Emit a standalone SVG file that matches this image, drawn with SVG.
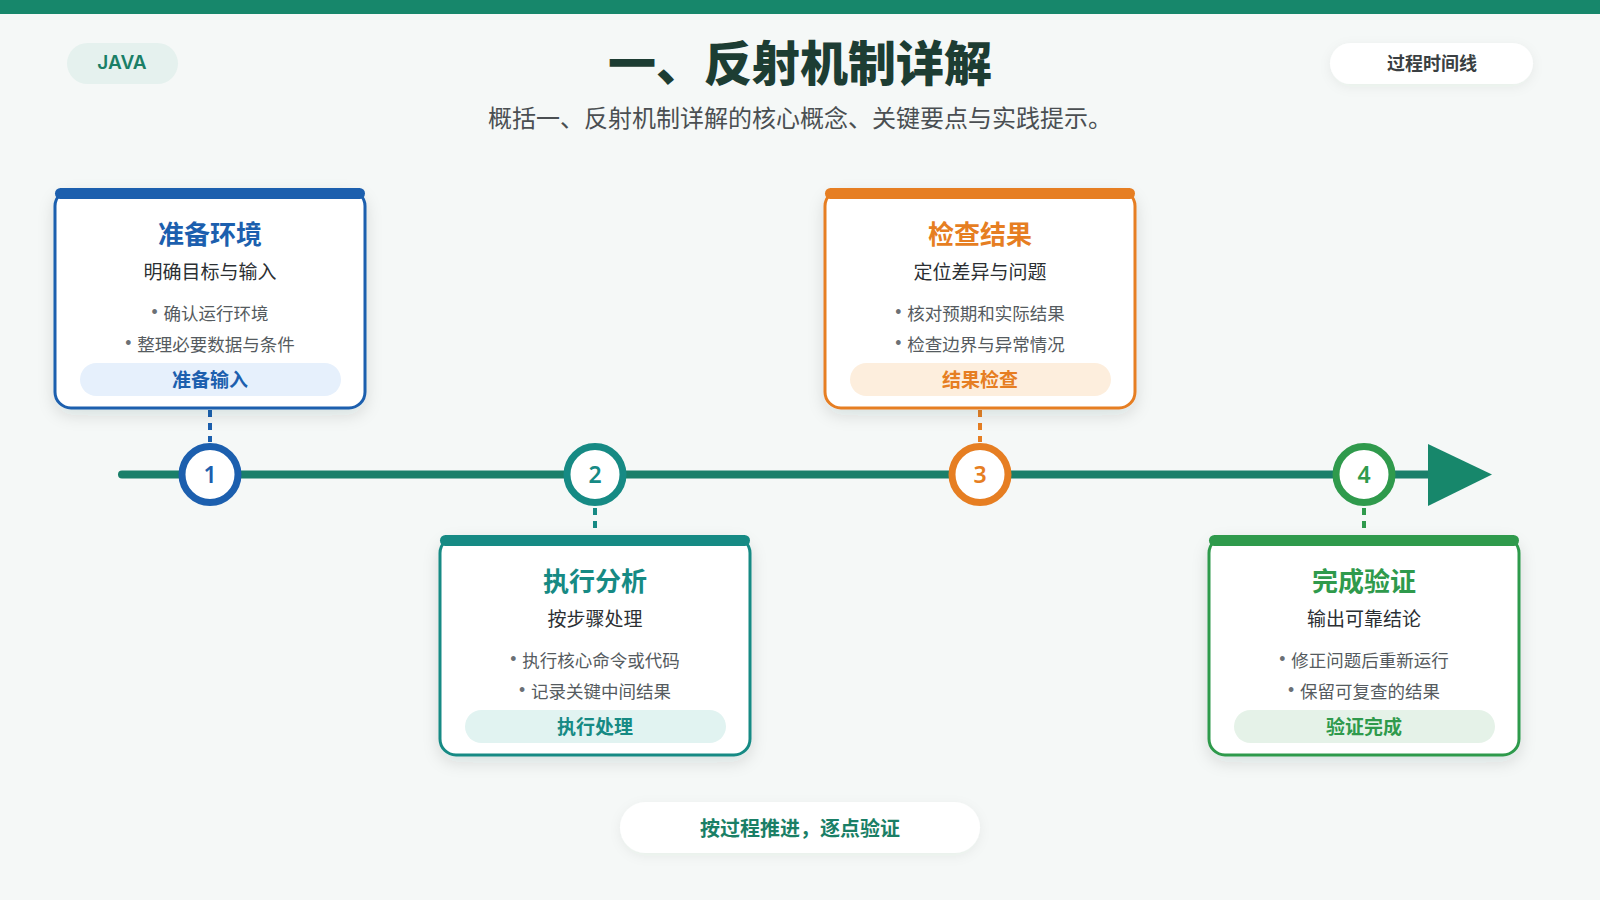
<svg xmlns="http://www.w3.org/2000/svg" width="1600" height="900" viewBox="0 0 1600 900">
<defs>
<filter id="sh" x="-20%" y="-20%" width="140%" height="150%">
<feDropShadow dx="0" dy="6" stdDeviation="8" flood-color="#1d3d33" flood-opacity="0.12"/>
</filter>
<filter id="sh2" x="-20%" y="-40%" width="140%" height="180%">
<feDropShadow dx="0" dy="3" stdDeviation="6" flood-color="#1d3d33" flood-opacity="0.06"/>
</filter>
<style>
text{font-family:"Noto Sans CJK SC","Noto Sans",sans-serif;text-anchor:middle;dominant-baseline:central}
.t{font-size:26px;font-weight:700}
.s{font-size:19px;fill:#2b2f33}
.b{font-size:17.5px;fill:#555b60}
.dot{fill:#6b7075;font-family:"Liberation Sans",sans-serif}
.bd{font-size:19px;font-weight:700}
.card{fill:#ffffff;stroke-width:3}
.num{font-family:"Noto Sans","Inter",sans-serif;font-size:23px;font-weight:600}
.dash{stroke-width:4;stroke-dasharray:7 6;fill:none}
</style>
</defs>
<rect width="1600" height="900" fill="#f5f8f7"/>
<rect width="1600" height="14" fill="#17876b"/>

<g id="header">
<rect x="67" y="43" width="111" height="41" rx="20.5" fill="#e5f1ee"/>
<text x="122" y="62.5" style="font-family:Inter,'Noto Sans',sans-serif;font-size:19px;font-weight:600;fill:#1a7f66">JAVA</text>
<text x="800" y="60" style="font-size:48px;font-weight:800;fill:#1d3d33">一、反射机制详解</text>
<text x="800" y="116" style="font-size:24px;fill:#4a4f52">概括一、反射机制详解的核心概念、关键要点与实践提示。</text>
<rect x="1330" y="43" width="203" height="41" rx="20.5" fill="#ffffff" filter="url(#sh2)"/>
<text x="1432" y="62" style="font-size:18px;font-weight:700;fill:#3a3f42">过程时间线</text>
</g>

<g id="connectors">
<line x1="122" y1="474.5" x2="1432" y2="474.5" stroke="#1a7f6a" stroke-width="8" stroke-linecap="round"/>
<polygon points="1428,444 1492,474.5 1428,506" fill="#17876b"/>
<line class="dash" x1="210" y1="410" x2="210" y2="442" stroke="#1c5fae"/>
<line class="dash" x1="595" y1="508" x2="595" y2="533" stroke="#168a84"/>
<line class="dash" x1="980" y1="410" x2="980" y2="442" stroke="#e67e22"/>
<line class="dash" x1="1364" y1="508" x2="1364" y2="533" stroke="#2f9a4c"/>
</g>

<g id="m1"><circle cx="210" cy="474.5" r="28" fill="#fff" stroke="#1c5fae" stroke-width="7"/><text class="num" x="210" y="474" fill="#1c5fae">1</text></g>
<g id="m2"><circle cx="595" cy="474.5" r="28" fill="#fff" stroke="#168a84" stroke-width="7"/><text class="num" x="595" y="474" fill="#168a84">2</text></g>
<g id="m3"><circle cx="980" cy="474.5" r="28" fill="#fff" stroke="#e67e22" stroke-width="7"/><text class="num" x="980" y="474" fill="#e67e22">3</text></g>
<g id="m4"><circle cx="1364" cy="474.5" r="28" fill="#fff" stroke="#2f9a4c" stroke-width="7"/><text class="num" x="1364" y="474" fill="#2f9a4c">4</text></g>

<g id="card1">
<rect class="card" x="55" y="190" width="310" height="218" rx="16" stroke="#1c5fae" filter="url(#sh)"/>
<rect x="55" y="188" width="310" height="11" rx="5.5" fill="#1c5fae"/>
<text class="t" x="210" y="232" fill="#1c5fae">准备环境</text>
<text class="s" x="210" y="270">明确目标与输入</text>
<text class="b" x="210" y="312"><tspan class="dot">•</tspan><tspan dx="6">确认运行环境</tspan></text>
<text class="b" x="210" y="343"><tspan class="dot">•</tspan><tspan dx="6">整理必要数据与条件</tspan></text>
<rect x="80" y="363" width="261" height="33" rx="16.5" fill="#e6f0fc"/>
<text class="bd" x="210" y="378" fill="#1c5fae">准备输入</text>
</g>

<g id="card2">
<rect class="card" x="440" y="537" width="310" height="218" rx="16" stroke="#168a84" filter="url(#sh)"/>
<rect x="440" y="535" width="310" height="11" rx="5.5" fill="#168a84"/>
<text class="t" x="595" y="579" fill="#168a84">执行分析</text>
<text class="s" x="595" y="617">按步骤处理</text>
<text class="b" x="595" y="659"><tspan class="dot">•</tspan><tspan dx="6">执行核心命令或代码</tspan></text>
<text class="b" x="595" y="690"><tspan class="dot">•</tspan><tspan dx="6">记录关键中间结果</tspan></text>
<rect x="465" y="710" width="261" height="33" rx="16.5" fill="#e1f3f1"/>
<text class="bd" x="595" y="725" fill="#168a84">执行处理</text>
</g>

<g id="card3">
<rect class="card" x="825" y="190" width="310" height="218" rx="16" stroke="#e67e22" filter="url(#sh)"/>
<rect x="825" y="188" width="310" height="11" rx="5.5" fill="#e67e22"/>
<text class="t" x="980" y="232" fill="#e67e22">检查结果</text>
<text class="s" x="980" y="270">定位差异与问题</text>
<text class="b" x="980" y="312"><tspan class="dot">•</tspan><tspan dx="6">核对预期和实际结果</tspan></text>
<text class="b" x="980" y="343"><tspan class="dot">•</tspan><tspan dx="6">检查边界与异常情况</tspan></text>
<rect x="850" y="363" width="261" height="33" rx="16.5" fill="#fdeedd"/>
<text class="bd" x="980" y="378" fill="#e67e22">结果检查</text>
</g>

<g id="card4">
<rect class="card" x="1209" y="537" width="310" height="218" rx="16" stroke="#2f9a4c" filter="url(#sh)"/>
<rect x="1209" y="535" width="310" height="11" rx="5.5" fill="#2f9a4c"/>
<text class="t" x="1364" y="579" fill="#2f9a4c">完成验证</text>
<text class="s" x="1364" y="617">输出可靠结论</text>
<text class="b" x="1364" y="659"><tspan class="dot">•</tspan><tspan dx="6">修正问题后重新运行</tspan></text>
<text class="b" x="1364" y="690"><tspan class="dot">•</tspan><tspan dx="6">保留可复查的结果</tspan></text>
<rect x="1234" y="710" width="261" height="33" rx="16.5" fill="#e5f2e8"/>
<text class="bd" x="1364" y="725" fill="#2f9a4c">验证完成</text>
</g>

<g id="footer">
<rect x="620" y="802" width="360" height="51" rx="25.5" fill="#ffffff" filter="url(#sh2)"/>
<text x="800" y="827" style="font-size:20px;font-weight:700;fill:#1a7f66">按过程推进，逐点验证</text>
</g>
</svg>
